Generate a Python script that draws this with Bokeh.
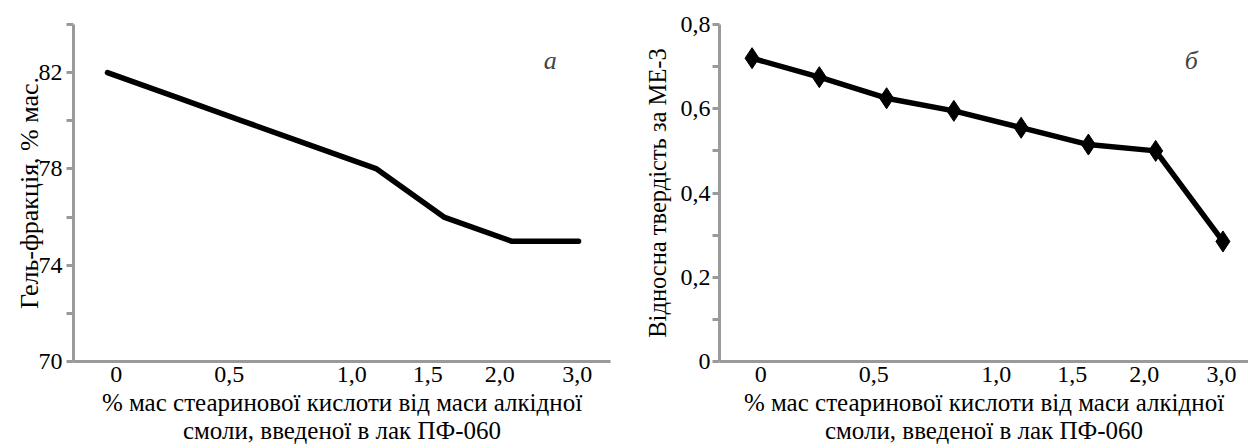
from bokeh.plotting import figure
from bokeh.models import Range1d, FixedTicker, Label
from bokeh.layouts import row
from bokeh.embed import file_html
from bokeh.resources import INLINE

# ---- data ----
x_idx = [0, 1, 2, 3, 4, 5, 6, 7]
gel_fraction = [82, 81, 80, 79, 78, 76, 75, 75]
rel_hardness = [0.72, 0.675, 0.625, 0.595, 0.555, 0.515, 0.50, 0.285]
x_tick_pos = [0.13, 1.81, 3.63, 4.76, 5.83, 6.98]
x_tick_labels = ["0", "0,5", "1,0", "1,5", "2,0", "3,0"]
gel_ticks = [70, 74, 78, 82]
gel_minor = [72, 76, 80, 84]
hard_ticks = [0, 0.2, 0.4, 0.6, 0.8]
hard_tick_labels = ["0", "0,2", "0,4", "0,6", "0,8"]
hard_minor = [0.1, 0.3, 0.5, 0.7]
x_title = ["% мас стеаринової кислоти від маси алкідної", "смоли, введеної в лак ПФ-060"]
y_title_left = "Гель-фракція, % мас."
y_title_right = "Відносна твердість за МЕ-3"
panel_letters = ["а", "б"]

FONT = "Liberation Serif"
AXIS_COL = "#9a9a9a"


def style(p, y_ticks, y_minor, y_labels=None):
    p.outline_line_color = None
    p.grid.visible = False
    p.background_fill_color = "white"
    p.border_fill_color = "white"
    for ax in (p.xaxis[0], p.yaxis[0]):
        ax.axis_line_color = AXIS_COL
        ax.axis_line_width = 3
        ax.major_tick_line_color = AXIS_COL
        ax.minor_tick_line_color = AXIS_COL
        ax.major_tick_line_width = 3
        ax.minor_tick_line_width = 3
        ax.major_label_text_font = FONT
        ax.major_label_text_font_size = "24px"
        ax.major_label_text_color = "black"
        ax.axis_label_text_font = FONT
        ax.axis_label_text_font_style = "normal"
        ax.axis_label_text_color = "black"
        ax.major_tick_in = 0
        ax.minor_tick_in = 0
    xa = p.xaxis[0]
    xa.ticker = FixedTicker(ticks=x_tick_pos)
    xa.major_label_overrides = {t: l for t, l in zip(x_tick_pos, x_tick_labels)}
    xa.major_tick_out = 0
    xa.minor_tick_out = 0
    xa.major_label_standoff = 5
    xa.axis_label = "\n".join(x_title)
    xa.axis_label_text_font_size = "25px"
    xa.axis_label_text_line_height = 1.05
    xa.axis_label_standoff = 4
    ya = p.yaxis[0]
    ya.ticker = FixedTicker(ticks=y_ticks, minor_ticks=y_minor)
    if y_labels is not None:
        ya.major_label_overrides = {t: l for t, l in zip(y_ticks, y_labels)}
    ya.major_tick_out = 7
    ya.minor_tick_out = 7


# ---- left panel ----
p1 = figure(width=640, height=448, x_range=Range1d(-0.505, 7.475), y_range=Range1d(70, 84),
            output_backend="svg", toolbar_location=None,
            min_border_left=73, min_border_right=30, min_border_top=21, min_border_bottom=84)
style(p1, gel_ticks, gel_minor)
p1.yaxis[0].major_label_standoff = 4
p1.yaxis[0].axis_label = y_title_left
p1.yaxis[0].axis_label_text_font_size = "26px"
p1.yaxis[0].axis_label_standoff = -8
p1.line(x_idx, gel_fraction, line_color="black", line_width=5.5, line_join="round", line_cap="round")
p1.add_layout(Label(x=6.58, y=82.5, text=panel_letters[0], text_align="center",
                    text_baseline="middle", text_font=FONT, text_font_size="26px",
                    text_font_style="italic"))

# ---- right panel ----
p2 = figure(width=608, height=448, x_range=Range1d(-0.484, 7.38), y_range=Range1d(0, 0.8),
            output_backend="svg", toolbar_location=None,
            min_border_left=72, min_border_right=0, min_border_top=24, min_border_bottom=87)
style(p2, hard_ticks, hard_minor, hard_tick_labels)
p2.yaxis[0].major_label_standoff = 2
p2.yaxis[0].axis_label = y_title_right
p2.yaxis[0].axis_label_text_font_size = "24.5px"
p2.yaxis[0].axis_label_standoff = 7
p2.line(x_idx, rel_hardness, line_color="black", line_width=5.5, line_join="round", line_cap="round")
p2.scatter(x_idx, rel_hardness, marker="diamond", size=21, fill_color="black", line_color="black")
p2.add_layout(Label(x=6.53, y=0.715, text=panel_letters[1], text_align="center",
                    text_baseline="middle", text_font=FONT, text_font_size="26px",
                    text_font_style="italic"))

layout = row(p1, p2)
open("out.html", "w").write(file_html(layout, INLINE))
